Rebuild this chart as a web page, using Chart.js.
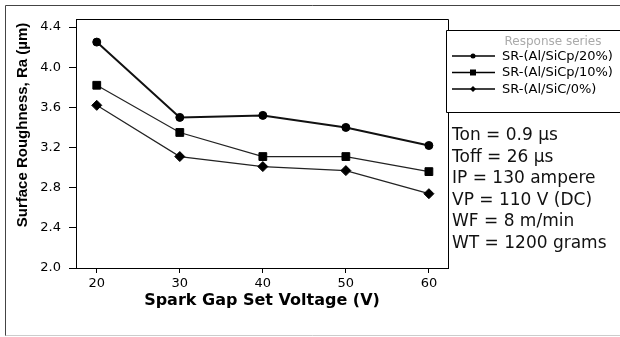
<!DOCTYPE html>
<html>
<head>
<meta charset="utf-8">
<script src="https://cdn.jsdelivr.net/npm/chart.js@4"></script>
<style>
  body { margin: 0; background: #fff; }
  #wrap { width: 620px; height: 337px; position: relative; }
</style>
</head>
<body>
<div id="wrap"><canvas id="grafico"></canvas></div>
<script>
var voltage = [20, 30, 40, 50, 60]
var sr20 = [4.25, 3.50, 3.52, 3.40, 3.22]
var sr10 = [3.82, 3.35, 3.11, 3.11, 2.96]
var sr0 = [3.62, 3.11, 3.01, 2.97, 2.74]
var seriesNames = ['SR-(Al/SiCp/20%)', 'SR-(Al/SiCp/10%)', 'SR-(Al/SiC/0%)']
var yTicks = [2.0, 2.4, 2.8, 3.2, 3.6, 4.0, 4.4]
var notes = ['Ton = 0.9 \u00b5s', 'Toff = 26 \u00b5s', 'IP = 130 ampere', 'VP = 110 V (DC)', 'WF = 8 m/min', 'WT = 1200 grams']

function toPoints(vals) {
  return vals.map((v, i) => ({ x: voltage[i], y: v }))
}

// marker drawn by hand for the legend box
function marker(ctx, style, x, y, r) {
  ctx.beginPath()
  if (style === 'circle') {
    ctx.arc(x, y, r, 0, Math.PI * 2)
  } else if (style === 'rect') {
    ctx.rect(x - r, y - r, r * 2, r * 2)
  } else {
    ctx.moveTo(x, y - r); ctx.lineTo(x + r, y); ctx.lineTo(x, y + r); ctx.lineTo(x - r, y); ctx.closePath()
  }
  ctx.fill()
}

var extras = {
  id: 'extras',
  afterDraw(chart) {
    const ctx = chart.ctx
    const a = chart.chartArea
    ctx.save()
    // outer frame
    ctx.strokeStyle = '#444'
    ctx.lineWidth = 1
    ctx.beginPath()
    ctx.moveTo(5.5, 336); ctx.lineTo(5.5, 5.5); ctx.lineTo(620, 5.5)
    ctx.stroke()
    ctx.strokeStyle = '#ccc'
    ctx.beginPath(); ctx.moveTo(5.5, 335.5); ctx.lineTo(620, 335.5); ctx.stroke()

    // plot box top + right
    ctx.strokeStyle = '#000'
    ctx.beginPath()
    ctx.moveTo(a.left, a.top + 0.5); ctx.lineTo(a.right + 0.5, a.top + 0.5); ctx.lineTo(a.right + 0.5, a.bottom)
    ctx.stroke()

    // legend box
    ctx.beginPath()
    ctx.moveTo(620, 30.5); ctx.lineTo(446.5, 30.5); ctx.lineTo(446.5, 112.5); ctx.lineTo(620, 112.5)
    ctx.stroke()
    ctx.fillStyle = '#fff'
    ctx.fillRect(447, 31, 173, 81)
    ctx.fillStyle = '#aaa'
    ctx.font = '12px "DejaVu Sans"'
    ctx.textAlign = 'center'
    ctx.textBaseline = 'alphabetic'
    ctx.fillText('Response series', 553, 45)
    const rows = [56, 72.5, 89]
    chart.data.datasets.forEach((ds, i) => {
      const y = rows[i]
      ctx.strokeStyle = '#000'
      ctx.lineWidth = 1.6
      ctx.beginPath(); ctx.moveTo(452, y); ctx.lineTo(495, y); ctx.stroke()
      ctx.fillStyle = '#000'
      marker(ctx, ds.pointStyle, 473, y, ds.pointStyle === 'circle' ? 2.5 : 3)
      ctx.font = '13px "DejaVu Sans"'
      ctx.textAlign = 'left'
      ctx.textBaseline = 'middle'
      ctx.fillText(ds.label, 502, y + 0.5)
    })

    // process parameters
    ctx.fillStyle = '#111'
    ctx.font = '17px "DejaVu Sans"'
    ctx.textAlign = 'left'
    ctx.textBaseline = 'alphabetic'
    notes.forEach((t, i) => ctx.fillText(t, 452, 140 + i * 21.6))

    // y axis title
    ctx.fillStyle = '#000'
    ctx.translate(23, 125)
    ctx.rotate(-Math.PI / 2)
    ctx.font = 'bold 15px "Liberation Sans"'
    ctx.textAlign = 'center'
    ctx.textBaseline = 'middle'
    ctx.fillText('Surface Roughness, Ra (\u00b5m)', 0, 0)
    ctx.restore()
  }
}

function createGrafico(ctx) {
  return new Chart(ctx, {
    type: 'line',
    data: {
      datasets: [{
        label: seriesNames[0],
        data: toPoints(sr20),
        borderColor: '#111',
        borderWidth: 2,
        pointStyle: 'circle',
        pointRadius: 4,
        pointBorderWidth: 1,
        pointBackgroundColor: '#000',
        pointBorderColor: '#000'
      }, {
        label: seriesNames[1],
        data: toPoints(sr10),
        borderColor: '#222',
        borderWidth: 1.2,
        pointStyle: 'rect',
        pointRadius: 5.5,
        pointBorderWidth: 1,
        pointBackgroundColor: '#000',
        pointBorderColor: '#000'
      }, {
        label: seriesNames[2],
        data: toPoints(sr0),
        borderColor: '#222',
        borderWidth: 1.2,
        pointStyle: 'rectRot',
        pointRadius: 5,
        pointBorderWidth: 1,
        pointBackgroundColor: '#000',
        pointBorderColor: '#000'
      }]
    },
    options: {
      responsive: true,
      maintainAspectRatio: false,
      animation: false,
      devicePixelRatio: 1,
      layout: { padding: { left: 0, right: 172, top: 19, bottom: 25 } },
      plugins: { legend: { display: false }, tooltip: { enabled: false } },
      scales: {
        x: {
          type: 'linear',
          min: 17.5,
          max: 62.3,
          afterBuildTicks: s => { s.ticks = voltage.map(v => ({ value: v })) },
          afterFit: s => { s.height = 44 },
          grid: { drawOnChartArea: false, tickLength: 5, color: '#000' },
          border: { color: '#000', width: 1 },
          ticks: { color: '#000', font: { family: 'DejaVu Sans', size: 13 }, padding: 3, maxRotation: 0 },
          title: {
            display: true,
            text: 'Spark Gap Set Voltage (V)',
            color: '#000',
            font: { family: 'DejaVu Sans', size: 16, weight: 'bold' },
            padding: { top: 0, bottom: 2 }
          }
        },
        y: {
          min: 2.0,
          max: 4.48,
          afterBuildTicks: s => { s.ticks = yTicks.map(v => ({ value: v })) },
          afterFit: s => { s.width = 76 },
          grid: { drawOnChartArea: false, tickLength: 7, color: '#000' },
          border: { color: '#000', width: 1 },
          ticks: { color: '#000', font: { family: 'DejaVu Sans', size: 13 }, padding: 8, callback: v => v.toFixed(1) }
        }
      }
    },
    plugins: [extras]
  })
}

createGrafico(document.getElementById('grafico'))
</script>
</body>
</html>
